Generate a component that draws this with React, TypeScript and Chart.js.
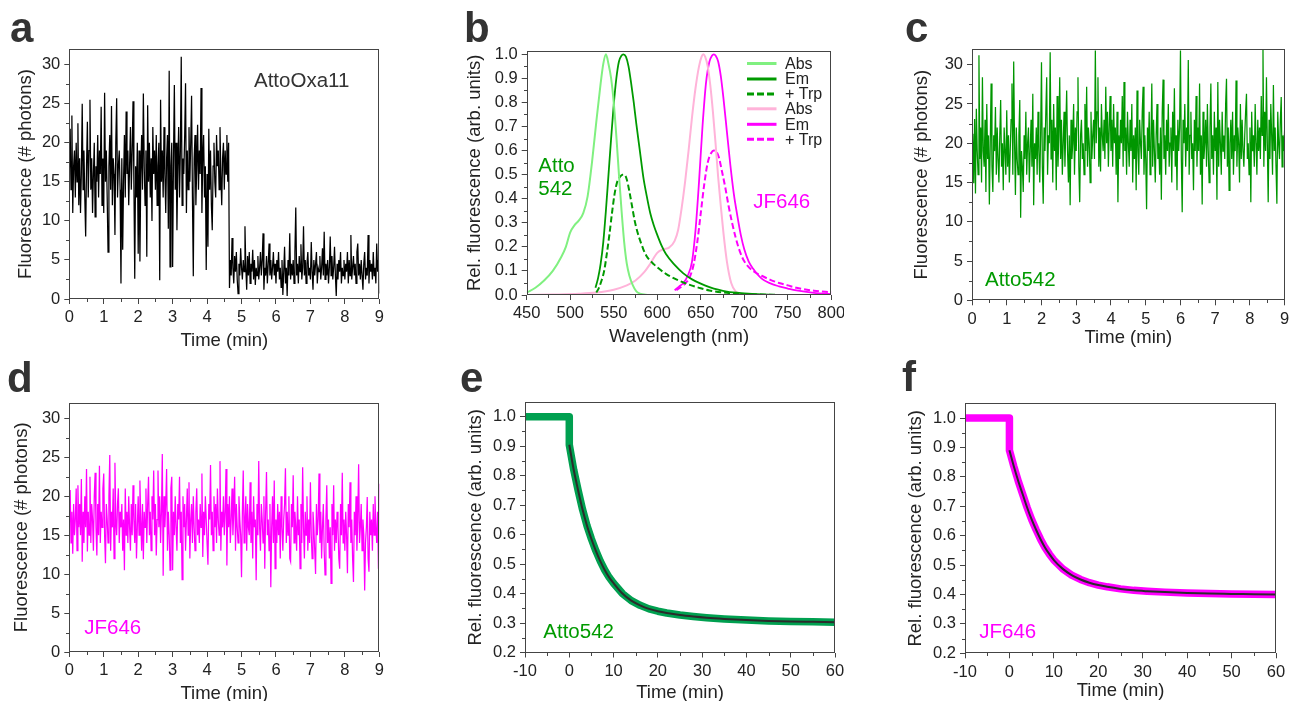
import React, { useEffect, useRef } from "react";
import { Chart, registerables } from "chart.js";

Chart.register(...registerables);

const FONT = '"Liberation Sans", Arial, Helvetica, sans-serif';
const INK = "#222222";
const AXIS = "#444444";
const TICK_SIZE = 16.5;
const TITLE_SIZE = 18.5;
const LABEL_SIZE = 20.5;
const LETTER_SIZE = 42;

// ---------------- tick labels ----------------
const timeTicks = [0, 1, 2, 3, 4, 5, 6, 7, 8, 9];
const photonTicks = [0, 5, 10, 15, 20, 25, 30];
const wavelengthTicks = [450, 500, 550, 600, 650, 700, 750, 800];
const relTicksB = [0, 0.1, 0.2, 0.3, 0.4, 0.5, 0.6, 0.7, 0.8, 0.9, 1.0];
const relTicksEF = [0.2, 0.3, 0.4, 0.5, 0.6, 0.7, 0.8, 0.9, 1.0];
const bleachTicks = [-10, 0, 10, 20, 30, 40, 50, 60];

// ---------------- panel a: AttoOxa11 trace (0-9 min, 1.5 s bins) ----------------
const attoOxa11Trace = [
  16, 21.8, 14, 23.5, 11, 17, 19, 13, 20, 15, 22.5, 12, 18, 11, 16, 25, 14, 19, 13, 8,
  17, 22.7, 13, 19, 25.5, 14, 18, 11, 16, 20, 10.5, 17, 15, 21, 13, 19, 16, 24.6, 12, 18,
  11, 26.4, 15, 19, 13, 6, 17, 21, 14, 24.7, 12, 18, 16, 8.2, 20, 25.7, 13, 17, 19, 14,
  2, 18, 6.3, 15, 21, 13, 24, 16, 19, 12, 17, 22, 14, 19, 25.3, 15, 2.6, 17, 13, 20,
  5.8, 19, 4.8, 16, 21, 14, 26.3, 17, 12, 19, 5.4, 24.8, 15, 20, 13, 18, 10, 22, 16, 19,
  14, 21, 12, 17, 20, 2.4, 25.5, 15, 19, 13, 22, 16, 11, 18, 21, 9, 29.2, 4.1, 17, 20,
  4.1, 18, 27.4, 14, 20, 8.8, 17, 22, 13, 19, 31, 12, 18, 16, 21, 27.6, 11, 19, 14, 22,
  15, 20, 26, 13, 2.9, 18, 21, 12, 17, 22.3, 14, 19, 16, 27, 11, 18, 21, 13, 17, 3.7,
  16, 6.7, 21.8, 14, 19, 12, 8.8, 17, 20, 15, 13, 21, 17, 19, 14, 22, 16, 12, 18, 20,
  14, 19, 16, 21, 15, 20,
  1.4, 5, 3, 7.8, 4, 2, 5.5, 3.5, 6, 2.5, 0.7, 4.5, 3, 6.5,
  4, 2.5, 5, 3.5, 9.3, 4, 1.2, 5.5, 3, 6, 2, 4.5, 3.5, 6.3, 2.5, 5, 1.8, 4, 3, 5.5,
  2.5, 4, 6, 3, 5, 8.4, 1.2, 4, 3, 5.5, 2, 4.5, 7.1, 3, 5, 2.5, 4, 6, 3, 4.5,
  2, 5, 3.5, 6, 2.5, 4, 1.5, 5, 0.5, 3.5, 6.7, 2, 4, 0.4, 5, 3, 8.4, 2.5, 4.5, 3,
  5, 2, 6, 11.7, 3, 4.5, 2, 5.5, 3.5, 7, 2.5, 4, 9.3, 3, 5, 2, 4.5, 6, 3, 4,
  2.5, 7.3, 3.5, 1.2, 5, 3, 4.5, 6, 2, 4, 3.5, 5.5, 2.5, 4, 6.5, 3, 8.6, 2.5, 4.5, 3,
  5, 2, 4, 8, 3, 5.5, 2.5, 4, 6.7, 3, 0.4, 4.5, 2.5, 5, 3.5, 6, 2, 4, 3, 5,
  2.5, 4.5, 3.5, 6, 2, 5, 3, 8.2, 2.5, 4, 5.5, 3, 4.5, 2, 6, 7.1, 3, 4.5, 2.5, 5,
  3, 1.2, 4.5, 6, 2.5, 4, 3, 8.2, 2, 5, 3.5, 4.5, 2.5, 6, 3, 4, 2, 7.1, 3.5, 5,
  0.7,
];

// ---------------- panel c: Atto542 trace ----------------
const atto542Trace = [
  17, 21.2, 14.9, 23.1, 13.6, 24.4, 19, 16, 31.2, 18, 22, 15, 28.4, 19, 17, 23, 13.8, 25, 18, 21,
  12.2, 20, 27.6, 17, 13.8, 21, 19, 24.6, 16, 22, 18, 15, 21, 25.5, 17, 20, 14, 22, 19, 16,
  24.2, 17, 21, 15, 19, 23, 27.6, 16, 30.4, 20, 13.4, 22, 18, 16, 21, 25.5, 10.5, 19, 17, 13.8,
  21, 18, 24, 16, 20, 22, 15, 19, 23, 17, 26.3, 12.1, 20, 18, 22, 16, 24, 19, 15, 21,
  30.3, 17, 12.3, 22, 19, 24, 28.4, 16, 21, 20, 31.6, 18, 23, 15, 25, 19, 22, 14, 26, 17,
  21, 28.4, 18, 23, 16, 20, 24, 17, 22, 26.7, 19, 15, 21, 12.1, 23, 18, 20, 25, 16, 22,
  19, 24, 28.4, 17, 12.5, 21, 23, 18, 20, 16, 25, 19, 27.2, 17, 22, 20, 15, 24, 18, 21,
  23, 18, 31.8, 20, 24, 28.4, 17, 22, 16.4, 25, 21, 19, 23, 18, 27.2, 20, 24, 17, 22, 26,
  19, 23, 17, 25, 20, 22, 16, 24, 12.5, 21, 18, 23, 20, 26, 17, 27.8, 19, 22, 16, 24,
  20, 17, 23, 19, 25, 15, 21, 18, 22, 14, 26.7, 19, 16, 23, 20, 18, 24, 27.2, 16, 21,
  18, 11.6, 22, 19, 24, 16, 20, 27.6, 17, 23, 19, 15, 21, 25, 18, 20, 16, 22, 12.8, 24,
  28.1, 18, 21, 16, 23, 19, 25, 17, 20, 22, 15, 24, 19, 27, 17, 21, 14, 23, 19, 22,
  31.8, 18, 11.2, 23, 20, 25, 17, 22, 19, 30.6, 16, 21, 24, 18, 20, 14, 23, 19, 26, 17,
  22, 19, 27.6, 16, 21, 12.2, 24, 18, 20, 23, 17, 25, 19, 15, 22, 27.6, 18, 21, 16, 24,
  19, 22, 12.8, 27.8, 17, 23, 20, 16, 24, 19, 21, 18, 25, 28.2, 17, 22, 14, 20, 23, 18,
  24, 16, 21, 19, 28, 17, 22, 20, 15, 25, 18, 23, 19, 17, 21, 24, 26.3, 18, 20, 16,
  22, 12.5, 24, 19, 21, 17, 25, 20, 16, 23, 19, 22, 18, 26, 21, 32, 17, 24, 19, 28.4,
  20, 12.5, 23, 18, 25, 21, 16, 27.4, 19, 22, 17, 12.3, 24, 20, 18, 23, 25.9, 17, 21, 19,
  22,
];

// ---------------- panel d: JF646 trace ----------------
const jf646Trace = [
  16, 20.8, 14, 18, 12.6, 19, 15, 17, 21, 13, 21.4, 16, 19, 15, 22.2, 11.6, 18, 14, 20, 16,
  23.5, 12.9, 18, 15, 22.5, 14, 19, 17, 13, 20, 23, 16, 12.4, 19, 15, 23.9, 14, 18, 16, 21,
  22.9, 15, 11.4, 19, 17, 14, 20, 25.3, 13, 18, 16, 21, 12, 24.3, 17, 15, 19, 21, 14, 18,
  16, 19, 13, 17, 10.5, 21, 15, 18, 14, 20, 16, 13, 19, 15, 21.4, 17, 14, 19, 12, 16,
  20, 15, 22, 17, 13, 19, 11.9, 18, 16, 21, 14, 19, 22.5, 15, 18, 13, 20, 17, 23.3, 15,
  19, 12.4, 17, 23.3, 16, 20, 14, 18, 25.4, 9.8, 20, 16, 19, 23.5, 13, 18, 15, 10.5, 21, 22.5,
  10.5, 18, 15, 20, 16, 13, 19, 17, 22.5, 14, 18, 9.3, 20, 16, 19, 13, 17, 21, 15, 21.8,
  12, 17, 19, 14, 20, 16, 13, 18, 21, 15, 17, 14, 19, 16, 22.9, 12.2, 18, 15, 20, 17,
  14, 11.2, 19, 17, 24, 15, 18, 13, 20, 16, 19, 14, 21, 17, 15, 24.5, 13, 18, 16, 20,
  15, 18, 23.5, 11.1, 19, 16, 20, 14, 17, 21, 15, 18, 22.5, 13, 19, 16, 14, 20, 17, 15,
  9.6, 18, 23.3, 14, 17, 20, 13, 19, 16, 15, 21.8, 14, 18, 12, 20, 16, 17, 9.2, 19, 15,
  24.5, 16, 13, 19, 17, 14, 20, 10.7, 18, 23.1, 15, 17, 13, 19, 8.3, 16, 20, 14, 22, 10.7,
  17, 14, 19, 15, 18, 12, 20, 16, 13, 17, 19, 23.6, 14, 18, 15, 20, 12, 11.6, 19, 16,
  22.7, 14, 18, 16, 13, 20, 15, 17, 10.7, 19, 14, 23.7, 16, 12, 18, 15, 20, 13, 17, 14,
  21.8, 15, 12, 18, 16, 13, 10, 19, 15, 17, 22.9, 14, 18, 12, 16, 19, 13, 9.9, 17, 21.4,
  14, 17, 12, 16, 8.8, 19, 15, 21.4, 13, 17, 14, 18, 16, 12, 10.7, 19, 15, 23, 14, 17,
  13, 18, 15, 10.1, 19, 16, 21.8, 14, 17, 12, 9, 18, 15, 20, 13, 17, 24.1, 14, 16, 19,
  13, 17, 15, 7.9, 14, 16, 19.9, 12, 10.3, 18, 15, 17, 13, 19, 15, 20, 16, 14, 18, 10.7,
  21.6,
];

// ---------------- panel b: spectra ----------------
const attoAbsNm = [450, 460, 470, 480, 490, 495, 500, 505, 510, 515, 520, 525, 530, 535, 538, 541, 544, 547, 550, 553, 556, 559, 562, 565, 568, 572, 576, 580, 590];
const attoAbs = [0.01, 0.03, 0.06, 0.1, 0.16, 0.2, 0.26, 0.29, 0.31, 0.34, 0.41, 0.55, 0.72, 0.88, 0.96, 1.0, 0.96, 0.9, 0.8, 0.66, 0.5, 0.35, 0.22, 0.13, 0.08, 0.04, 0.015, 0.006, 0];

const attoEmNm = [529, 532, 535, 538, 541, 544, 547, 550, 553, 556, 559, 561, 564, 567, 570, 573, 576, 580, 584, 588, 592, 596, 600, 605, 610, 620, 630, 640, 650, 660, 670, 680, 700, 720, 750];
const attoEm = [0.03, 0.07, 0.13, 0.22, 0.35, 0.5, 0.65, 0.79, 0.9, 0.97, 0.995, 1.0, 0.99, 0.95, 0.88, 0.8, 0.71, 0.6, 0.49, 0.41, 0.34, 0.29, 0.25, 0.205, 0.17, 0.125, 0.09, 0.065, 0.047, 0.033, 0.022, 0.014, 0.007, 0.003, 0];

const attoTrpNm = [530, 533, 536, 539, 542, 545, 548, 551, 554, 557, 560, 562, 565, 568, 571, 574, 577, 580, 584, 588, 592, 596, 600, 610, 620, 630, 640, 650, 660, 680, 700, 730, 760, 800];
const attoTrp = [0.01, 0.03, 0.06, 0.1, 0.17, 0.25, 0.34, 0.42, 0.47, 0.49, 0.5, 0.5, 0.48, 0.43, 0.37, 0.31, 0.265, 0.23, 0.19, 0.16, 0.142, 0.128, 0.115, 0.088, 0.068, 0.052, 0.039, 0.028, 0.019, 0.009, 0.004, 0.001, 0, 0];

const jfAbsNm = [450, 480, 510, 530, 550, 565, 575, 585, 592, 600, 607, 614, 620, 624, 628, 632, 636, 640, 644, 648, 651, 653, 655, 658, 661, 664, 667, 670, 673, 676, 680, 685, 690, 700];
const jfAbs = [0, 0.002, 0.005, 0.01, 0.022, 0.04, 0.06, 0.095, 0.13, 0.175, 0.19, 0.198, 0.225, 0.27, 0.36, 0.47, 0.6, 0.74, 0.86, 0.95, 0.99, 1.0, 0.99, 0.95, 0.87, 0.76, 0.63, 0.49, 0.37, 0.26, 0.14, 0.05, 0.015, 0];

const jfEmNm = [620, 625, 630, 635, 640, 644, 648, 652, 656, 660, 663, 665, 667, 670, 673, 676, 680, 684, 688, 692, 696, 700, 705, 710, 720, 730, 740, 750, 760, 780, 800];
const jfEm = [0.02, 0.035, 0.05, 0.08, 0.14, 0.27, 0.47, 0.7, 0.88, 0.97, 0.995, 1.0, 0.995, 0.97, 0.91, 0.82, 0.68, 0.54, 0.42, 0.33, 0.25, 0.19, 0.14, 0.11, 0.068, 0.048, 0.036, 0.027, 0.019, 0.009, 0.004];

const jfTrpNm = [622, 628, 634, 638, 642, 646, 650, 654, 658, 662, 665, 668, 671, 674, 678, 682, 686, 690, 695, 700, 710, 720, 730, 740, 750, 760, 780, 800];
const jfTrp = [0.02, 0.035, 0.055, 0.08, 0.13, 0.22, 0.34, 0.46, 0.55, 0.59, 0.6, 0.595, 0.57, 0.52, 0.45, 0.37, 0.3, 0.24, 0.18, 0.14, 0.1, 0.08, 0.063, 0.05, 0.04, 0.03, 0.018, 0.011];

// ---------------- panels e, f: bleaching ----------------
const preTime = [-10, -5, 0];
const preValue = [1.0, 1.0, 1.0];
const decayTime = [0, 1, 2, 3, 4, 5, 6, 7, 8, 9, 10, 12, 14, 16, 18, 20, 22, 25, 28, 31, 35, 40, 45, 50, 55, 60];
const attoDecay = [0.905, 0.82, 0.75, 0.685, 0.63, 0.585, 0.545, 0.51, 0.48, 0.455, 0.435, 0.4, 0.376, 0.36, 0.348, 0.34, 0.334, 0.327, 0.322, 0.318, 0.314, 0.31, 0.307, 0.305, 0.304, 0.303];
const jfDecay = [0.89, 0.835, 0.785, 0.74, 0.695, 0.655, 0.62, 0.588, 0.56, 0.537, 0.517, 0.487, 0.466, 0.451, 0.44, 0.432, 0.426, 0.419, 0.414, 0.411, 0.408, 0.405, 0.403, 0.402, 0.401, 0.4];

// ---------------- helpers ----------------
const toTrace = (vals: number[], tMax: number) =>
  vals.map((v, i) => ({ x: (i * tMax) / (vals.length - 1), y: v }));
const pair = (xs: number[], ys: number[]) => xs.map((x, i) => ({ x, y: ys[i] }));

const fmtInt = (v: number) => String(Math.round(v));
const fmt1 = (v: number) => Number(v).toFixed(1);

const traceDs = (vals: number[], color: string) => ({
  data: toTrace(vals, 9),
  borderColor: color,
  borderWidth: 1.25,
  pointRadius: 0,
  tension: 0,
  fill: false,
});

const specDs = (xs: number[], ys: number[], color: string, width: number, dash?: number[]) => ({
  data: pair(xs, ys),
  borderColor: color,
  borderWidth: width,
  borderDash: dash || [],
  pointRadius: 0,
  cubicInterpolationMode: "monotone",
  fill: false,
});

const bleachDs = (decay: number[], band: string) => [
  {
    data: pair(decayTime, decay),
    borderColor: "#2b2b2b",
    borderWidth: 2,
    pointRadius: 0,
    cubicInterpolationMode: "monotone",
    order: 0,
  },
  {
    data: [...pair(preTime, preValue), ...pair(decayTime, decay)],
    borderColor: band,
    borderWidth: 7.5,
    borderCapStyle: "round",
    borderJoinStyle: "round",
    pointRadius: 0,
    tension: 0,
    order: 1,
  },
];

type Txt = { text: string; x: number; y: number; color: string; size: number; bold?: boolean };
type LegendItem = { label: string; color: string; dash?: number[] };
type Axis = { min: number; max: number; ticks: number[]; title: string; fmt: (v: number) => string };
type Spec = {
  left: number;
  top: number;
  width: number;
  area: { L: number; T: number; R: number; B: number };
  yTitleCx: number;
  xTitleCy: number;
  x: Axis;
  y: Axis;
  datasets: any[];
  texts: Txt[];
  legend?: { x0: number; x1: number; tx: number; ys: number[]; items: LegendItem[]; size: number };
};

const GREEN_TXT = "#009a00";
const MAGENTA = "#ff00ff";
const LETTER = "#333333";

const specs: Spec[] = [
  {
    left: 0, top: 0, width: 392,
    area: { L: 69.3, T: 49, R: 379.3, B: 299 },
    yTitleCx: 26, xTitleCy: 340.5,
    x: { min: 0, max: 9, ticks: timeTicks, title: "Time (min)", fmt: fmtInt },
    y: { min: 0, max: 32, ticks: photonTicks, title: "Fluorescence (# photons)", fmt: fmtInt },
    datasets: [traceDs(attoOxa11Trace, "#000000")],
    texts: [
      { text: "a", x: 10, y: 41.7, color: LETTER, size: LETTER_SIZE, bold: true },
      { text: "AttoOxa11", x: 254, y: 87.3, color: "#333333", size: LABEL_SIZE },
    ],
  },
  {
    left: 440, top: 0, width: 404,
    area: { L: 526.7, T: 50.7, R: 831.3, B: 295 },
    yTitleCx: 475, xTitleCy: 336.7,
    x: { min: 450, max: 800, ticks: wavelengthTicks, title: "Wavelength (nm)", fmt: fmtInt },
    y: { min: 0, max: 1.015, ticks: relTicksB, title: "Rel. fluorescence (arb. units)", fmt: fmt1 },
    datasets: [
      specDs(attoAbsNm, attoAbs, "#80f080", 2),
      specDs(attoEmNm, attoEm, "#009a00", 1.8),
      specDs(attoTrpNm, attoTrp, "#009a00", 2, [6, 3]),
      specDs(jfAbsNm, jfAbs, "#ffb3d9", 2),
      specDs(jfEmNm, jfEm, MAGENTA, 1.8),
      specDs(jfTrpNm, jfTrp, MAGENTA, 2, [6, 3]),
    ],
    texts: [
      { text: "b", x: 464, y: 41.7, color: LETTER, size: LETTER_SIZE, bold: true },
      { text: "Atto", x: 538.3, y: 171.7, color: GREEN_TXT, size: LABEL_SIZE },
      { text: "542", x: 538.3, y: 195, color: GREEN_TXT, size: LABEL_SIZE },
      { text: "JF646", x: 753.3, y: 208.3, color: MAGENTA, size: LABEL_SIZE },
    ],
    legend: {
      x0: 747, x1: 776.5, tx: 785, size: 16,
      ys: [63.5, 79, 94, 108.8, 124.3, 139.3],
      items: [
        { label: "Abs", color: "#80f080" },
        { label: "Em", color: "#009a00" },
        { label: "+ Trp", color: "#009a00", dash: [7, 3] },
        { label: "Abs", color: "#ffb3d9" },
        { label: "Em", color: MAGENTA },
        { label: "+ Trp", color: MAGENTA, dash: [7, 3] },
      ],
    },
  },
  {
    left: 860, top: 0, width: 429,
    area: { L: 972, T: 49, R: 1284.7, B: 300.3 },
    yTitleCx: 921.7, xTitleCy: 338.3,
    x: { min: 0, max: 9, ticks: timeTicks, title: "Time (min)", fmt: fmtInt },
    y: { min: 0, max: 32, ticks: photonTicks, title: "Fluorescence (# photons)", fmt: fmtInt },
    datasets: [traceDs(atto542Trace, "#009600")],
    texts: [
      { text: "c", x: 905, y: 41.7, color: LETTER, size: LETTER_SIZE, bold: true },
      { text: "Atto542", x: 985, y: 285.7, color: GREEN_TXT, size: LABEL_SIZE },
    ],
  },
  {
    left: 0, top: 350, width: 392,
    area: { L: 69.3, T: 402.7, R: 379.3, B: 652 },
    yTitleCx: 22, xTitleCy: 694,
    x: { min: 0, max: 9, ticks: timeTicks, title: "Time (min)", fmt: fmtInt },
    y: { min: 0, max: 32, ticks: photonTicks, title: "Fluorescence (# photons)", fmt: fmtInt },
    datasets: [traceDs(jf646Trace, MAGENTA)],
    texts: [
      { text: "d", x: 7, y: 391.7, color: LETTER, size: LETTER_SIZE, bold: true },
      { text: "JF646", x: 84.3, y: 634.3, color: MAGENTA, size: LABEL_SIZE },
    ],
  },
  {
    left: 440, top: 350, width: 408,
    area: { L: 525, T: 402, R: 835, B: 652.5 },
    yTitleCx: 475.8, xTitleCy: 692.5,
    x: { min: -10, max: 60, ticks: bleachTicks, title: "Time (min)", fmt: fmtInt },
    y: { min: 0.2, max: 1.05, ticks: relTicksEF, title: "Rel. fluorescence (arb. units)", fmt: fmt1 },
    datasets: bleachDs(attoDecay, "#00a050"),
    texts: [
      { text: "e", x: 460, y: 391.7, color: LETTER, size: LETTER_SIZE, bold: true },
      { text: "Atto542", x: 543.3, y: 637.7, color: GREEN_TXT, size: LABEL_SIZE },
    ],
  },
  {
    left: 870, top: 350, width: 419,
    area: { L: 965, T: 403.3, R: 1276, B: 653.3 },
    yTitleCx: 915.8, xTitleCy: 690.8,
    x: { min: -10, max: 60, ticks: bleachTicks, title: "Time (min)", fmt: fmtInt },
    y: { min: 0.2, max: 1.05, ticks: relTicksEF, title: "Rel. fluorescence (arb. units)", fmt: fmt1 },
    datasets: bleachDs(jfDecay, MAGENTA),
    texts: [
      { text: "f", x: 902, y: 391, color: LETTER, size: LETTER_SIZE, bold: true },
      { text: "JF646", x: 979.3, y: 637.7, color: MAGENTA, size: LABEL_SIZE },
    ],
  },
];

function layoutOf(s: Spec) {
  const lh = TITLE_SIZE * 1.2;
  const padLeft = s.yTitleCx - s.left - lh / 2;
  const yW = s.area.L - s.left - padLeft;
  const height = Math.ceil(s.xTitleCy + lh / 2 - s.top + 1);
  const padBottom = s.top + height - s.xTitleCy - lh / 2;
  const xH = s.top + height - padBottom - s.area.B;
  const padTop = s.area.T - s.top;
  const padRight = s.left + s.width - s.area.R;
  return { height, padLeft, padTop, padRight, padBottom, yW, xH };
}

const mids = (ticks: number[]) => ticks.slice(1).map((v, i) => (v + ticks[i]) / 2);

function makeOverlay(s: Spec) {
  return {
    id: "overlay",
    afterDraw(chart: any) {
      const { ctx, chartArea: a, scales } = chart;
      ctx.save();
      ctx.strokeStyle = AXIS;
      ctx.lineWidth = 1;
      const l = Math.round(a.left) + 0.5;
      const t = Math.round(a.top) + 0.5;
      const r = Math.round(a.right) - 0.5;
      const b = Math.round(a.bottom) - 0.5;
      ctx.strokeRect(l, t, r - l, b - t);
      ctx.beginPath();
      mids(s.x.ticks).forEach((v) => {
        const px = Math.round(scales.x.getPixelForValue(v)) + 0.5;
        ctx.moveTo(px, b);
        ctx.lineTo(px, b + 3.5);
      });
      mids(s.y.ticks).forEach((v) => {
        const py = Math.round(scales.y.getPixelForValue(v)) + 0.5;
        ctx.moveTo(l, py);
        ctx.lineTo(l - 3.5, py);
      });
      ctx.stroke();
      if (s.legend) {
        const L = s.legend;
        L.items.forEach((it, i) => {
          const y = L.ys[i] - s.top;
          ctx.beginPath();
          ctx.strokeStyle = it.color;
          ctx.lineWidth = 3;
          ctx.setLineDash(it.dash || []);
          ctx.moveTo(L.x0 - s.left, y);
          ctx.lineTo(L.x1 - s.left, y);
          ctx.stroke();
          ctx.setLineDash([]);
          ctx.fillStyle = INK;
          ctx.font = `${L.size}px ${FONT}`;
          ctx.textBaseline = "middle";
          ctx.textAlign = "left";
          ctx.fillText(it.label, L.tx - s.left, y + 1);
        });
      }
      ctx.textBaseline = "alphabetic";
      ctx.textAlign = "left";
      s.texts.forEach((tx) => {
        ctx.fillStyle = tx.color;
        ctx.font = `${tx.bold ? "bold " : ""}${tx.size}px ${FONT}`;
        ctx.fillText(tx.text, tx.x - s.left, tx.y - s.top);
      });
      ctx.restore();
    },
  };
}

function axisOpts(ax: Axis, horizontal: boolean, size: number) {
  return {
    type: "linear",
    min: ax.min,
    max: ax.max,
    afterBuildTicks: (scale: any) => {
      scale.ticks = ax.ticks.map((v) => ({ value: v }));
    },
    afterFit: (scale: any) => {
      if (horizontal) {
        scale.height = size;
        scale.paddingLeft = 0;
        scale.paddingRight = 0;
      } else {
        scale.width = size;
        scale.paddingTop = 0;
        scale.paddingBottom = 0;
      }
    },
    grid: {
      drawOnChartArea: false,
      drawTicks: true,
      tickLength: 5,
      tickColor: AXIS,
      tickWidth: 1,
    },
    border: { display: false },
    ticks: {
      autoSkip: false,
      maxRotation: 0,
      minRotation: 0,
      padding: 4,
      color: INK,
      font: { size: TICK_SIZE, family: FONT },
      callback: (v: any) => ax.fmt(Number(v)),
    },
    title: {
      display: true,
      text: ax.title,
      color: INK,
      font: { size: TITLE_SIZE, family: FONT },
      padding: { top: 0, bottom: 0 },
    },
  };
}

function Panel({ spec }: { spec: Spec }) {
  const ref = useRef<HTMLCanvasElement | null>(null);
  const lay = layoutOf(spec);
  useEffect(() => {
    if (!ref.current) return;
    const chart = new Chart(ref.current, {
      type: "line",
      data: { datasets: spec.datasets },
      options: {
        animation: false,
        responsive: false,
        devicePixelRatio: 1,
        events: [],
        layout: {
          padding: {
            left: lay.padLeft,
            top: lay.padTop,
            right: lay.padRight,
            bottom: lay.padBottom,
          },
        },
        plugins: { legend: { display: false }, tooltip: { enabled: false } },
        scales: {
          x: axisOpts(spec.x, true, lay.xH),
          y: axisOpts(spec.y, false, lay.yW),
        },
      } as any,
      plugins: [makeOverlay(spec)],
    } as any);
    return () => chart.destroy();
  }, []);
  return (
    <canvas
      ref={ref}
      width={spec.width}
      height={lay.height}
      style={{
        position: "absolute",
        left: spec.left,
        top: spec.top,
        width: spec.width,
        height: lay.height,
      }}
    />
  );
}

export default function App() {
  return (
    <div
      style={{
        position: "absolute",
        left: 0,
        top: 0,
        width: 1289,
        height: 701,
        overflow: "hidden",
        background: "#ffffff",
      }}
    >
      {specs.map((s, i) => (
        <Panel key={i} spec={s} />
      ))}
    </div>
  );
}
